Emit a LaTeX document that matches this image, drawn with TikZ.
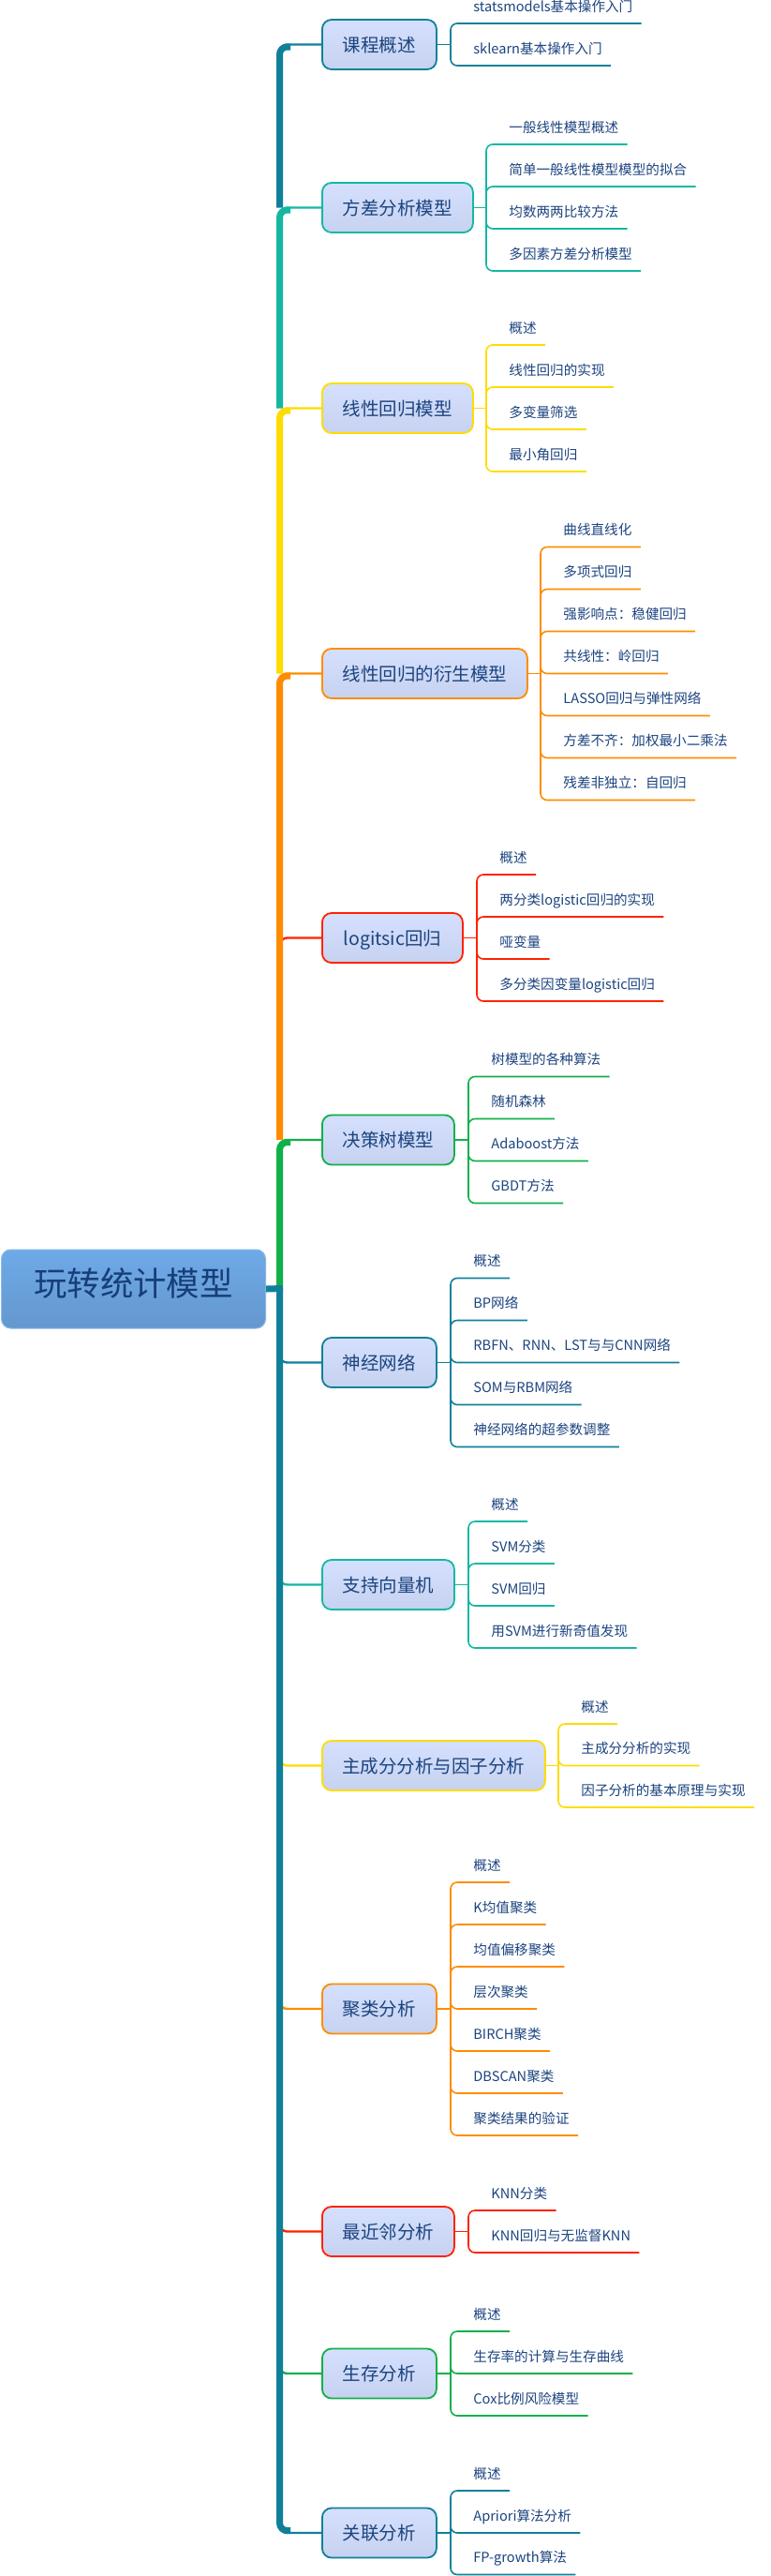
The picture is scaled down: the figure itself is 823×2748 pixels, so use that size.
\documentclass[tikz,border=0pt]{standalone}
\usepackage{fontspec}
\setmainfont{Noto Sans CJK SC}
\definecolor{cA}{HTML}{10809A}
\definecolor{cB}{HTML}{14B8A2}
\definecolor{cC}{HTML}{FFDC00}
\definecolor{cD}{HTML}{FF8C00}
\definecolor{cE}{HTML}{FF2200}
\definecolor{cF}{HTML}{10B04A}
\definecolor{txt}{HTML}{1C447F}
\definecolor{boxtop}{HTML}{D4E0FD}
\definecolor{boxbot}{HTML}{C6D2EF}
\definecolor{roottop}{HTML}{6EAAE8}
\definecolor{rootbot}{HTML}{6497CE}
\definecolor{rootedge}{HTML}{8AB8E6}
\definecolor{roottxt}{HTML}{173E78}
\begin{document}
\begin{tikzpicture}[x=0.5pt,y=-0.5pt,
  rootbox/.style={anchor=west, minimum width=141pt, minimum height=42pt, rounded corners=5pt,
    top color=roottop, bottom color=rootbot, draw=rootedge, line width=0.5pt, text=roottxt,
    font=\fontsize{17.7}{20}\selectfont, inner sep=0pt, text height=0.8em, text depth=0.05em},
  catbox/.style={anchor=west, draw=#1, line width=0.9pt, rounded corners=5pt,
    top color=boxtop, bottom color=boxbot, text=txt, font=\fontsize{9.75}{11}\selectfont,
    minimum height=26.5pt, inner sep=0pt, text height=0.8em, text depth=0.05em},
  leaf/.style={anchor=south west, inner xsep=4.5pt, inner ysep=0pt, text depth=6.25pt,
    text=txt, font=\fontsize{7.3}{9}\selectfont},
  lline/.style={draw=#1, line width=0.8pt, rounded corners=3.5pt},
  kstub/.style={draw=#1, line width=0.7pt},
  bstub/.style={draw=#1, line width=1.2pt, rounded corners=4pt},
  spine/.style={draw=#1, line width=3.5pt, rounded corners=4pt}]
\fill[white] (0,0) rectangle (823,2748);
\useasboundingbox (0,0) rectangle (823,2748);

% root and category boxes
\node[rootbox] (root) at (1,1375) {玩转统计模型};
\node[catbox=cA, minimum width=61pt]   (b1)  at (343,47.5)   {课程概述};
\node[catbox=cB, minimum width=80.5pt] (b2)  at (343,221.5)  {方差分析模型};
\node[catbox=cC, minimum width=80.5pt] (b3)  at (343,435.5)  {线性回归模型};
\node[catbox=cD, minimum width=109.5pt](b4)  at (343,718.5)  {线性回归的衍生模型};
\node[catbox=cE, minimum width=75pt]   (b5)  at (343,1000.5) {logitsic回归};
\node[catbox=cF, minimum width=70.5pt] (b6)  at (343,1216)   {决策树模型};
\node[catbox=cA, minimum width=61pt]   (b7)  at (343,1453.5) {神经网络};
\node[catbox=cB, minimum width=70.5pt] (b8)  at (343,1690.5) {支持向量机};
\node[catbox=cC, minimum width=119pt]  (b9)  at (343,1883.5) {主成分分析与因子分析};
\node[catbox=cD, minimum width=61pt]   (b10) at (343,2143)   {聚类分析};
\node[catbox=cE, minimum width=70.5pt] (b11) at (343,2380.5) {最近邻分析};
\node[catbox=cF, minimum width=61pt]   (b12) at (343,2532)   {生存分析};
\node[catbox=cA, minimum width=61pt]   (b13) at (343,2702)   {关联分析};

% thin stubs from spine to boxes
\draw[bstub=cA] (298.5,62.5)   |- (b1.west);
\draw[bstub=cB] (298.5,236.5)  |- (b2.west);
\draw[bstub=cC] (298.5,450.5)  |- (b3.west);
\draw[bstub=cD] (298.5,733.5)  |- (b4.west);
\draw[bstub=cE] (298.5,1015.5) |- (b5.west);
\draw[bstub=cF] (298.5,1231)   |- (b6.west);
\draw[bstub=cA] (298.5,1438.5) |- (b7.west);
\draw[bstub=cB] (298.5,1675.5) |- (b8.west);
\draw[bstub=cC] (298.5,1868.5) |- (b9.west);
\draw[bstub=cD] (298.5,2128)   |- (b10.west);
\draw[bstub=cE] (298.5,2365.5) |- (b11.west);
\draw[bstub=cF] (298.5,2517)   |- (b12.west);
\draw[bstub=cA] (298.5,2687)   |- (b13.west);

% thick spine
\coordinate (sr) at (298.5,1374.5);
\draw[line width=3.5pt, cA] (root.east) -- ([xshift=1.75pt]sr);
\draw[spine=cA] (298.5,221.5) -- (298.5,50) -- (310,50);
\draw[spine=cB] (298.5,435.5) -- (298.5,224) -- (310,224);
\draw[spine=cC] (298.5,718.5) -- (298.5,438) -- (310,438);
\draw[spine=cD] (298.5,1216) -- (298.5,721) -- (310,721);
\draw[spine=cF] (298.5,1371) -- (298.5,1218.5) -- (310,1218.5);
\draw[spine=cA] (298.5,1371) -- (298.5,2699.5) -- (310,2699.5);

% leaves
\coordinate (k1) at (481,47.5);
\draw[kstub=cA] (b1.east) -- (k1);
\foreach \uy/\lbl [count=\i] in {25/statsmodels基本操作入门,70/sklearn基本操作入门}{
  \node[leaf] (l1-\i) at (496,\uy) {\lbl};
  \draw[lline=cA] (k1) |- (l1-\i.south east);
}
\coordinate (k2) at (519,221.5);
\draw[kstub=cB] (b2.east) -- (k2);
\foreach \uy/\lbl [count=\i] in {154/一般线性模型概述,199/简单一般线性模型模型的拟合,244/均数两两比较方法,289/多因素方差分析模型}{
  \node[leaf] (l2-\i) at (534,\uy) {\lbl};
  \draw[lline=cB] (k2) |- (l2-\i.south east);
}
\coordinate (k3) at (519,435.5);
\draw[kstub=cC] (b3.east) -- (k3);
\foreach \uy/\lbl [count=\i] in {368/概述,413/线性回归的实现,458/多变量筛选,503/最小角回归}{
  \node[leaf] (l3-\i) at (534,\uy) {\lbl};
  \draw[lline=cC] (k3) |- (l3-\i.south east);
}
\coordinate (k4) at (577,718.5);
\draw[kstub=cD] (b4.east) -- (k4);
\foreach \uy/\lbl [count=\i] in {583.5/曲线直线化,628.5/多项式回归,673.5/强影响点：稳健回归,718.5/共线性：岭回归,763.5/LASSO回归与弹性网络,808.5/方差不齐：加权最小二乘法,853.5/残差非独立：自回归}{
  \node[leaf] (l4-\i) at (592,\uy) {\lbl};
  \draw[lline=cD] (k4) |- (l4-\i.south east);
}
\coordinate (k5) at (509,1000.5);
\draw[kstub=cE] (b5.east) -- (k5);
\foreach \uy/\lbl [count=\i] in {933/概述,978/两分类logistic回归的实现,1023/哑变量,1068/多分类因变量logistic回归}{
  \node[leaf] (l5-\i) at (524,\uy) {\lbl};
  \draw[lline=cE] (k5) |- (l5-\i.south east);
}
\coordinate (k6) at (500,1216);
\draw[kstub=cF] (b6.east) -- (k6);
\foreach \uy/\lbl [count=\i] in {1148.5/树模型的各种算法,1193.5/随机森林,1238.5/Adaboost方法,1283.5/GBDT方法}{
  \node[leaf] (l6-\i) at (515,\uy) {\lbl};
  \draw[lline=cF] (k6) |- (l6-\i.south east);
}
\coordinate (k7) at (481,1453.5);
\draw[kstub=cA] (b7.east) -- (k7);
\foreach \uy/\lbl [count=\i] in {1363.5/概述,1408.5/BP网络,1453.5/RBFN、RNN、LST与与CNN网络,1498.5/SOM与RBM网络,1543.5/神经网络的超参数调整}{
  \node[leaf] (l7-\i) at (496,\uy) {\lbl};
  \draw[lline=cA] (k7) |- (l7-\i.south east);
}
\coordinate (k8) at (500,1690.5);
\draw[kstub=cB] (b8.east) -- (k8);
\foreach \uy/\lbl [count=\i] in {1623/概述,1668/SVM分类,1713/SVM回归,1758/用SVM进行新奇值发现}{
  \node[leaf] (l8-\i) at (515,\uy) {\lbl};
  \draw[lline=cB] (k8) |- (l8-\i.south east);
}
\coordinate (k9) at (596,1883.5);
\draw[kstub=cC] (b9.east) -- (k9);
\foreach \uy/\lbl [count=\i] in {1839/概述,1883.5/主成分分析的实现,1928/因子分析的基本原理与实现}{
  \node[leaf] (l9-\i) at (611,\uy) {\lbl};
  \draw[lline=cC] (k9) |- (l9-\i.south east);
}
\coordinate (k10) at (481,2143);
\draw[kstub=cD] (b10.east) -- (k10);
\foreach \uy/\lbl [count=\i] in {2008/概述,2053/K均值聚类,2098/均值偏移聚类,2143/层次聚类,2188/BIRCH聚类,2233/DBSCAN聚类,2278/聚类结果的验证}{
  \node[leaf] (l10-\i) at (496,\uy) {\lbl};
  \draw[lline=cD] (k10) |- (l10-\i.south east);
}
\coordinate (k11) at (500,2380.5);
\draw[kstub=cE] (b11.east) -- (k11);
\foreach \uy/\lbl [count=\i] in {2358/KNN分类,2403/KNN回归与无监督KNN}{
  \node[leaf] (l11-\i) at (515,\uy) {\lbl};
  \draw[lline=cE] (k11) |- (l11-\i.south east);
}
\coordinate (k12) at (481,2532);
\draw[kstub=cF] (b12.east) -- (k12);
\foreach \uy/\lbl [count=\i] in {2487/概述,2532/生存率的计算与生存曲线,2577/Cox比例风险模型}{
  \node[leaf] (l12-\i) at (496,\uy) {\lbl};
  \draw[lline=cF] (k12) |- (l12-\i.south east);
}
\coordinate (k13) at (481,2702);
\draw[kstub=cA] (b13.east) -- (k13);
\foreach \uy/\lbl [count=\i] in {2657/概述,2702/Apriori算法分析,2746.5/FP-growth算法}{
  \node[leaf] (l13-\i) at (496,\uy) {\lbl};
  \draw[lline=cA] (k13) |- (l13-\i.south east);
}
\end{tikzpicture}
\end{document}
